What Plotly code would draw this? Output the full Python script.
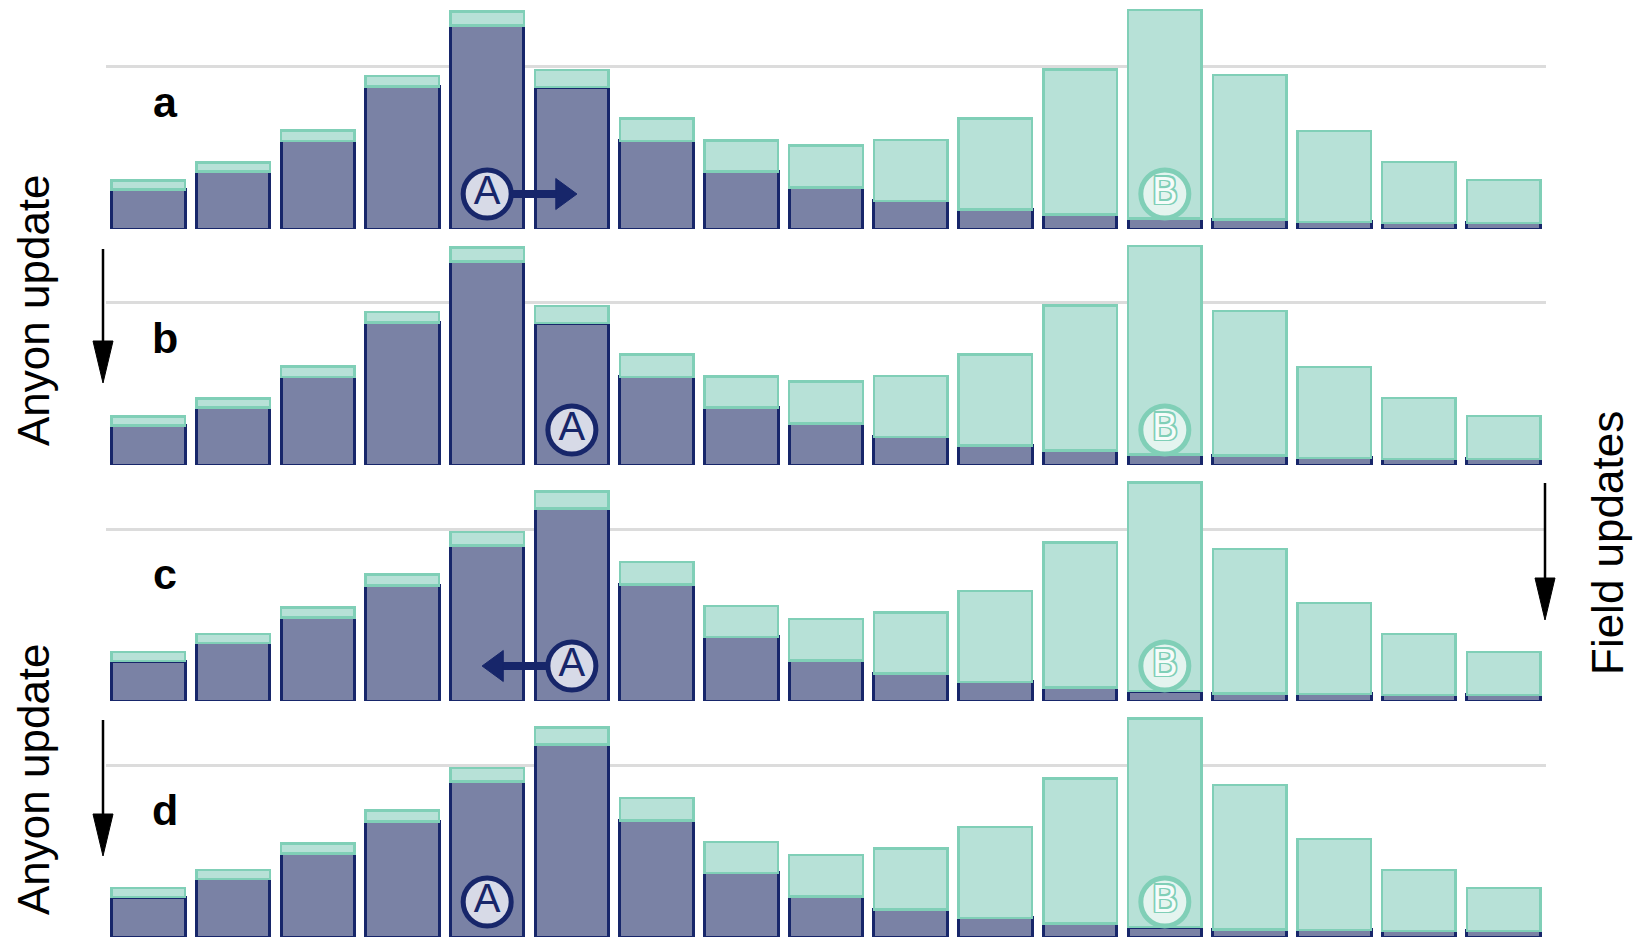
import plotly.graph_objects as go

# ---------------- data ----------------
bins = list(range(17))

# anyon weight per bin (before / after the field update)
anyon_before = [0.243, 0.354, 0.540, 0.875, 1.250, 0.870, 0.540, 0.354, 0.256,
                0.172, 0.119, 0.088, 0.063, 0.057, 0.043, 0.037, 0.037]
anyon_after = [0.245, 0.356, 0.511, 0.710, 0.955, 1.180, 0.716, 0.393, 0.249,
               0.168, 0.117, 0.082, 0.061, 0.045, 0.043, 0.037, 0.037]
# field weight per bin (stacked on top of the anyon weight)
field = [0.055, 0.055, 0.063, 0.065, 0.083, 0.105, 0.137, 0.190, 0.255,
         0.375, 0.558, 0.890, 1.280, 0.888, 0.558, 0.375, 0.263]

panel_labels = ["a", "b", "c", "d"]
panel_anyon = [anyon_before, anyon_before, anyon_after, anyon_after]
anyon_bin = [4, 5, 5, 4]          # bin holding anyon A in each panel
hop_to = [5, None, 4, None]        # proposed hop shown by an arrow
field_bin = 12                     # bin holding B
grid_level = [1.0, 1.0, 1.05, 1.05]
side_labels = ["Anyon update", "Field updates"]

# ---------------- style ----------------
W, H = 1647, 940
NAVY = "#17266a"
SLATE = "#7a82a5"
TEAL_FILL = "#b7e1d7"
TEAL_LINE = "#80cfb7"
GRID = "#dcdcdc"
FONT = "Liberation Sans"

X0, X1 = 106, 1546                  # plot area, pixels
base_px = [229, 465, 701, 937]      # baseline of each panel, pixels from top
panel_h = 225
px_per_unit = 163.0
y_top = panel_h / px_per_unit
marker_y = 35 / px_per_unit         # height of the A/B badges


def px(x):
    return x / W


def py(y):
    return 1 - y / H


fig = go.Figure()
shapes = []
annotations = []
outline = ", ".join(f"{dx}px {dy}px 0 {TEAL_LINE}"
                    for dx in (-1.5, 0, 1.5) for dy in (-1.5, 0, 1.5) if dx or dy)

for i in range(4):
    xa = "x" if i == 0 else f"x{i + 1}"
    ya = "y" if i == 0 else f"y{i + 1}"

    fig.add_bar(x=bins, y=panel_anyon[i], xaxis=xa, yaxis=ya,
                marker=dict(color=SLATE, line=dict(color=NAVY, width=3)),
                showlegend=False, hoverinfo="skip")
    fig.add_bar(x=bins, y=field, xaxis=xa, yaxis=ya,
                marker=dict(color=TEAL_FILL, line=dict(color=TEAL_LINE, width=2.5)),
                showlegend=False, hoverinfo="skip")

    # hop arrow for anyon A
    if hop_to[i] is not None:
        d = 1 if hop_to[i] > anyon_bin[i] else -1
        tail = anyon_bin[i] + d * 0.28
        tip = hop_to[i] + d * 0.06
        head_len = 0.25
        half = 15.5 / px_per_unit
        base = tip - d * head_len
        shapes.append(dict(type="line", xref=xa, yref=ya, x0=tail, x1=base + d * 0.02,
                           y0=marker_y, y1=marker_y, line=dict(color=NAVY, width=8),
                           layer="above"))
        shapes.append(dict(type="path", xref=xa, yref=ya, fillcolor=NAVY,
                           line=dict(color=NAVY, width=1), layer="above",
                           path=f"M{base},{marker_y - half} L{tip},{marker_y} "
                                f"L{base},{marker_y + half} Z"))

    # badge A
    fig.add_scatter(x=[anyon_bin[i]], y=[marker_y], xaxis=xa, yaxis=ya,
                    mode="markers+text", text=["A"], textposition="middle center",
                    textfont=dict(family=FONT, size=40, color=NAVY),
                    marker=dict(size=48, color="#d7dae7", line=dict(color=NAVY, width=5)),
                    showlegend=False, hoverinfo="skip")
    # badge B
    fig.add_scatter(x=[field_bin], y=[marker_y], xaxis=xa, yaxis=ya,
                    mode="markers+text", text=["B"], textposition="middle center",
                    textfont=dict(family=FONT, size=38, color="#f6fcfa", shadow=outline),
                    marker=dict(size=48, color="#e4f4ef", line=dict(color=TEAL_LINE, width=5)),
                    showlegend=False, hoverinfo="skip")

    # panel letter
    annotations.append(dict(xref=xa, yref=ya, x=0.2, y=127 / px_per_unit,
                            xanchor="center", yanchor="middle",
                            text=f"<b>{panel_labels[i]}</b>", showarrow=False,
                            font=dict(family=FONT, size=43, color="black")))

    b = base_px[i]
    fig.update_layout({
        ("xaxis" if i == 0 else f"xaxis{i + 1}"): dict(
            domain=[px(X0), px(X1)], range=[-0.5, 16.5], anchor=ya,
            visible=False, fixedrange=True),
        ("yaxis" if i == 0 else f"yaxis{i + 1}"): dict(
            domain=[py(b), py(b - panel_h)], range=[0, y_top], anchor=xa,
            tickvals=[grid_level[i]], showticklabels=False, ticks="",
            showgrid=True, gridcolor=GRID, gridwidth=3,
            zeroline=False, showline=False, fixedrange=True),
    })


def down_arrow(x, y0, y1):
    shapes.append(dict(type="line", xref="paper", yref="paper",
                       x0=px(x), x1=px(x), y0=py(y0), y1=py(y1 - 30),
                       line=dict(color="black", width=2.5)))
    shapes.append(dict(type="path", xref="paper", yref="paper", fillcolor="black",
                       line=dict(color="black", width=1),
                       path=f"M{px(x - 10)},{py(y1 - 42)} L{px(x)},{py(y1)} "
                            f"L{px(x + 10)},{py(y1 - 42)} Z"))


down_arrow(103, 249, 383)
down_arrow(103, 720, 856)
down_arrow(1545, 483, 620)

for yc in (310, 779):
    annotations.append(dict(xref="paper", yref="paper", x=px(33), y=py(yc),
                            xanchor="center", yanchor="middle",
                            text=side_labels[0], textangle=-90, showarrow=False,
                            font=dict(family=FONT, size=44, color="black")))
annotations.append(dict(xref="paper", yref="paper", x=px(1607), y=py(543),
                        xanchor="center", yanchor="middle",
                        text=side_labels[1], textangle=-90, showarrow=False,
                        font=dict(family=FONT, size=44, color="black")))

fig.update_layout(
    width=W, height=H,
    margin=dict(l=0, r=0, t=0, b=0),
    paper_bgcolor="white", plot_bgcolor="rgba(0,0,0,0)",
    barmode="stack", bargap=0.132,
    shapes=shapes, annotations=annotations,
    showlegend=False,
)

fig.write_html("out.html", config={"displayModeBar": False})
